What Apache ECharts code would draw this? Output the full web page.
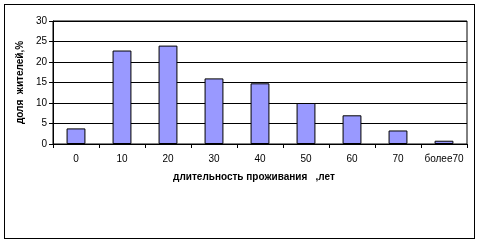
<!DOCTYPE html>
<html>
<head>
<meta charset="utf-8">
<script src="https://cdn.jsdelivr.net/npm/echarts@6/dist/echarts.min.js"></script>
<style>
  html, body { margin: 0; padding: 0; background: #fff; }
  #frame { position: absolute; left: 4px; top: 4px; width: 469px; height: 233px; border: 1px solid #000; box-sizing: content-box; }
  #chart { position: absolute; left: 0; top: 0; width: 480px; height: 243px; }
</style>
</head>
<body>
<div id="frame"></div>
<div id="chart"></div>
<script>
// Length of residence groups (years) and share of residents, %
const categories = ['0', '10', '20', '30', '40', '50', '60', '70', 'более70'];
const shares = [3.8, 22.8, 24.0, 16.0, 14.8, 10.0, 7.0, 3.3, 0.8];
const yTicks = { min: 0, max: 30, interval: 5 };

const chart = echarts.init(document.getElementById('chart'), null, { renderer: 'canvas' });
const font = 'Arial, "Liberation Sans", sans-serif';

chart.setOption({
  animation: false,
  grid: {
    left: 53, right: 13, top: 21, bottom: 99,
    show: true, borderColor: '#000', borderWidth: 1, backgroundColor: 'transparent'
  },
  xAxis: {
    type: 'category',
    data: categories,
    boundaryGap: true,
    axisLine: { lineStyle: { color: '#000', width: 1 } },
    axisTick: { show: true, alignWithLabel: false, length: 4, inside: false, lineStyle: { color: '#000' } },
    axisLabel: { color: '#000', fontFamily: font, fontSize: 10, margin: 10, interval: 0 },
    name: 'длительность проживания   ,лет',
    nameLocation: 'middle',
    nameGap: 28,
    nameTextStyle: { color: '#000', fontFamily: font, fontSize: 10, fontWeight: 'bold', padding: [0, 12, 0, 0] }
  },
  yAxis: {
    type: 'value',
    min: yTicks.min, max: yTicks.max, interval: yTicks.interval,
    axisLine: { show: true, lineStyle: { color: '#000', width: 1 } },
    axisTick: { show: true, length: 4, lineStyle: { color: '#000' } },
    axisLabel: { color: '#000', fontFamily: font, fontSize: 10, margin: 6 },
    splitLine: { show: true, lineStyle: { color: '#000', width: 1 } },
    name: 'доля  жителей,%',
    nameLocation: 'middle',
    nameGap: 24,
    nameRotate: 90,
    nameTextStyle: { color: '#000', fontFamily: font, fontSize: 10, fontWeight: 'bold' }
  },
  series: [{
    type: 'bar',
    data: shares,
    barWidth: '41%',
    itemStyle: { color: '#9999FF', borderColor: '#000', borderWidth: 1 }
  }]
});
</script>
</body>
</html>
